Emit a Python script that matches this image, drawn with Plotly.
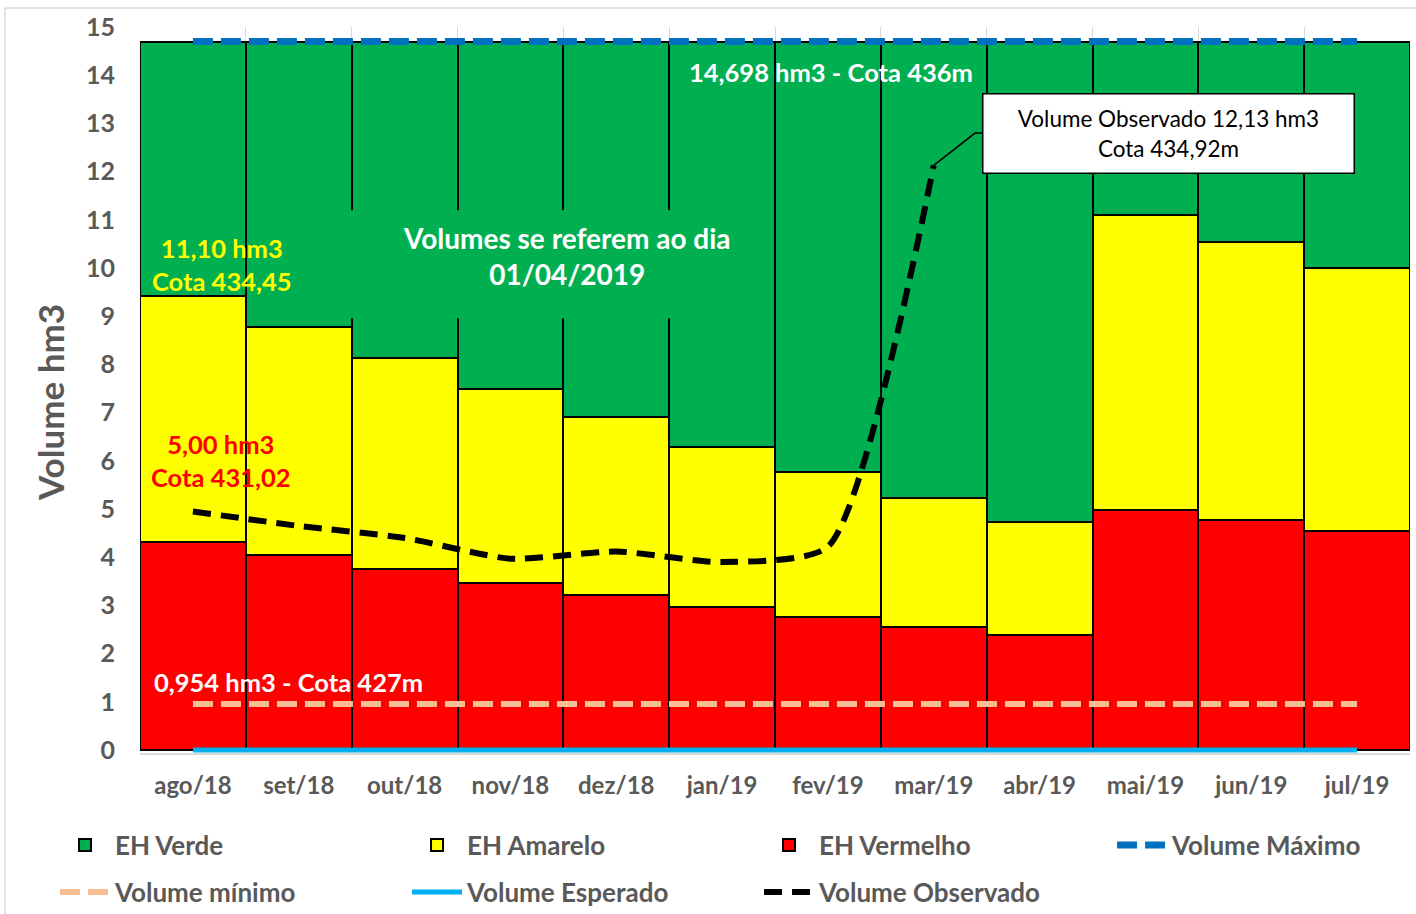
import plotly.graph_objects as go

months = ["ago/18", "set/18", "out/18", "nov/18", "dez/18", "jan/19",
          "fev/19", "mar/19", "abr/19", "mai/19", "jun/19", "jul/19"]
vermelho_top = [4.31, 4.05, 3.76, 3.46, 3.22, 2.97, 2.76, 2.55, 2.39, 4.98, 4.77, 4.54]
amarelo_top = [9.42, 8.78, 8.14, 7.50, 6.90, 6.28, 5.76, 5.24, 4.74, 11.10, 10.55, 10.0]
volume_maximo = 14.698
volume_minimo = 0.954
volume_esperado = 0.0
observado = [4.95, 4.65, 4.40, 3.97, 4.12, 3.90, 4.22, 12.13]

x = list(range(len(months)))
amarelo = [a - v for a, v in zip(amarelo_top, vermelho_top)]
verde = [volume_maximo - a for a in amarelo_top]

FONT = "Lato"
GRAY = "#595959"
edge = dict(color="black", width=2)

fig = go.Figure()
fig.add_trace(go.Bar(x=x, y=vermelho_top, name="EH Vermelho", marker=dict(color="#FF0000", line=edge),
                     width=1, legendrank=3, legend="legend"))
fig.add_trace(go.Bar(x=x, y=amarelo, name="EH Amarelo", marker=dict(color="#FFFF00", line=edge),
                     width=1, legendrank=2, legend="legend"))
fig.add_trace(go.Bar(x=x, y=verde, name="EH Verde", marker=dict(color="#00B050", line=edge),
                     width=1, legendrank=1, legend="legend"))
fig.add_trace(go.Scatter(x=x, y=[volume_maximo] * len(x), name="Volume Máximo", mode="lines",
                         line=dict(color="#0070C0", width=7, dash="20px,8px"), legendrank=4,
                         legend="legend3"))
fig.add_trace(go.Scatter(x=x, y=[volume_minimo] * len(x), name="Volume mínimo", mode="lines",
                         line=dict(color="#F8BF95", width=6, dash="20px,8px"), legendrank=5,
                         legend="legend2"))
fig.add_trace(go.Scatter(x=x, y=[volume_esperado] * len(x), name="Volume Esperado", mode="lines",
                         line=dict(color="#00B0F0", width=5), legendrank=6, legend="legend2"))
fig.add_trace(go.Scatter(x=x[:len(observado)], y=observado, name="Volume Observado", mode="lines",
                         line=dict(color="black", width=6, dash="18px,10px", shape="spline", smoothing=0.6),
                         legendrank=7, legend="legend2"))

# leader line for the callout
fig.add_shape(type="path", path="M 7.0,12.13 L 7.39,12.8 L 7.47,12.8",
              line=dict(color="black", width=1.5), xref="x", yref="y")
# green backing behind the date note (hides the bar edges)
fig.add_shape(type="rect", xref="x", yref="y", x0=1.465, x1=5.47, y0=8.96, y1=11.2,
              fillcolor="#00B050", line=dict(width=0), layer="above")

fig.add_annotation(x=0.275, y=10.08, text="11,10 hm3<br>Cota 434,45", showarrow=False,
                   font=dict(family=FONT, size=25.5, color="#FFFF00", weight="bold"))
fig.add_annotation(x=0.27, y=6.0, text="5,00 hm3<br>Cota 431,02", showarrow=False,
                   font=dict(family=FONT, size=25.5, color="#FF0000", weight="bold"))
fig.add_annotation(x=0.9, y=1.41, text="0,954 hm3 - Cota 427m", showarrow=False,
                   font=dict(family=FONT, size=25.5, color="white", weight="bold"))
fig.add_annotation(x=6.03, y=14.07, text="14,698 hm3 - Cota 436m", showarrow=False,
                   font=dict(family=FONT, size=25.5, color="white", weight="bold"))
fig.add_annotation(x=3.535, y=10.25, text="Volumes se referem ao dia<br>01/04/2019", showarrow=False,
                   font=dict(family=FONT, size=28, color="white", weight="bold"))
fig.add_annotation(x=9.22, y=12.8, text="Volume Observado 12,13 hm3<br>Cota 434,92m", showarrow=False,
                   font=dict(family=FONT, size=22.5, color="black"), bgcolor="white",
                   bordercolor="black", borderwidth=1.5, width=368, height=76)
# y-axis title
fig.add_annotation(xref="paper", yref="paper", x=-0.0709, y=0.4835, text="Volume hm3",
                   textangle=-90, showarrow=False, xanchor="center", yanchor="middle",
                   font=dict(family=FONT, size=35, color=GRAY, weight="bold"))

# chart-area border (left and top)
fig.add_shape(type="line", xref="paper", yref="paper", x0=-0.1063, x1=1.01, y0=1.0262, y1=1.0262,
              line=dict(color="#D9D9D9", width=1.5))
fig.add_shape(type="line", xref="paper", yref="paper", x0=-0.1063, x1=-0.1063, y0=1.0262, y1=-0.3,
              line=dict(color="#D9D9D9", width=1.5))

legend_common = dict(orientation="h", xanchor="left", yanchor="middle",
                     traceorder="normal", itemwidth=50,
                     font=dict(family=FONT, size=26, color=GRAY, weight="bold"))

fig.update_layout(
    width=1416, height=914,
    margin=dict(l=140, r=6, t=27, b=161, autoexpand=False),
    barmode="stack", bargap=0,
    plot_bgcolor="white", paper_bgcolor="white",
    font=dict(family=FONT, color=GRAY),
    showlegend=True,
    legend=dict(x=-0.0669, y=-0.1267, entrywidth=287, **legend_common),
    legend3=dict(x=0.7654, y=-0.1267, entrywidth=200, **legend_common),
    legend2=dict(x=-0.0669, y=-0.1915, entrywidth=287, **legend_common),
    xaxis=dict(range=[-0.5, 11.5], tickmode="array", tickvals=x, ticktext=months,
               showgrid=False, zeroline=False, showline=True, linecolor="#D9D9D9", linewidth=1.5,
               ticks="", ticklabelstandoff=10,
               tickfont=dict(family=FONT, size=24, color=GRAY, weight="bold"),
               minor=dict(tickmode="array", tickvals=[i - 0.5 for i in range(13)],
                          showgrid=True, gridcolor="#D9D9D9", gridwidth=1)),
    yaxis=dict(range=[-0.06, 15], tickmode="array", tickvals=list(range(16)),
               showgrid=True, gridcolor="#D9D9D9", gridwidth=1,
               zeroline=False, showline=False, ticks="", ticklabelstandoff=24,
               tickfont=dict(family=FONT, size=25, color=GRAY, weight="bold")),
)

fig.write_html("out.html", config={"displayModeBar": False},
               post_script="document.body.style.margin='0px';")
